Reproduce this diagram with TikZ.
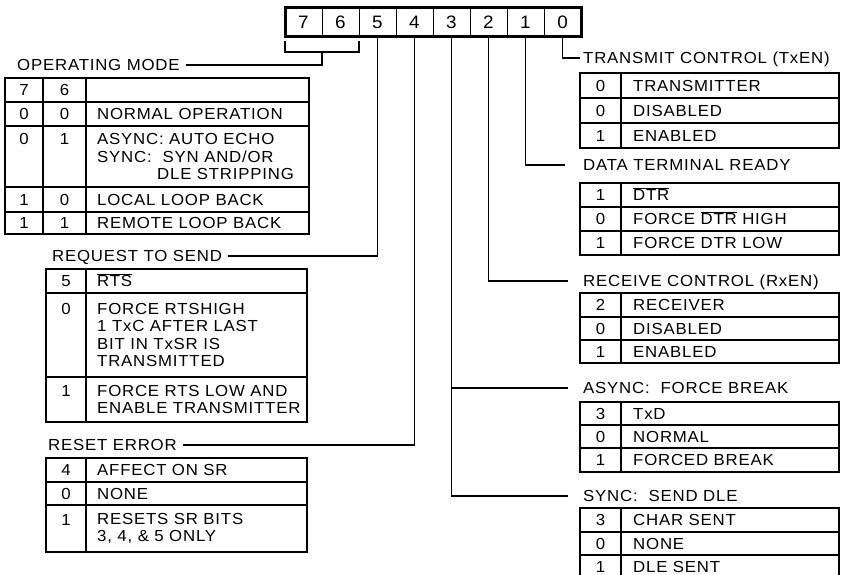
\documentclass[tikz,border=0pt]{standalone}
\usepackage{fontspec}
\setmainfont{Liberation Sans}[FakeStretch=1.05,LetterSpace=5]
\usetikzlibrary{positioning}

\newcommand{\cellfont}{\fontsize{16}{17.5}\selectfont}
\newcommand{\regfont}{\fontsize{18}{20}\selectfont}

\begin{document}
\begin{tikzpicture}[
    x=1pt, y=-1pt,
    bit/.style={
        rectangle,
        draw,
        line width=0.9pt,
        outer sep=0pt,
        inner sep=0pt,
        minimum width=37pt,
        minimum height=29pt,
        font=\regfont
    },
    title/.style={anchor=west, inner sep=3pt, text height=11.5pt, text depth=0pt, font=\cellfont},
    key/.style={inner sep=0pt, text height=11.5pt, text depth=0pt, font=\cellfont},
    entry/.style={anchor=west, inner sep=0pt, text height=11.5pt, text depth=0pt, font=\cellfont},
    multi/.style={anchor=west, align=left, inner sep=0pt, font=\cellfont},
    grid/.style={line width=1.1pt},
    wire/.style={line width=1.1pt}
]
\useasboundingbox (0,0) rectangle (841,575);

% register
\node[bit] (r7) at (303.5,22.5) {7};
\node[bit, right=0pt of r7] (r6) {6};
\node[bit, right=0pt of r6] (r5) {5};
\node[bit, right=0pt of r5] (r4) {4};
\node[bit, right=0pt of r4] (r3) {3};
\node[bit, right=0pt of r3] (r2) {2};
\node[bit, right=0pt of r2] (r1) {1};
\node[bit, right=0pt of r1] (r0) {0};
\draw[line width=3pt] (r7.north west) rectangle (r0.south east);

% labels
\node[title] (opmode) at (14,65) {OPERATING MODE};
\node[title] (rts) at (49,256) {REQUEST TO SEND};
\node[title] (reset) at (45,445) {RESET ERROR};
\node[title] (txen) at (580,58) {TRANSMIT CONTROL (TxEN)};
\node[title] (dtr) at (580,165) {DATA TERMINAL READY};
\node[title] (rxen) at (580,281) {RECEIVE CONTROL (RxEN)};
\node[title] (fbrk) at (580,388) {ASYNC:\ \ FORCE BREAK};
\node[title] (sdle) at (580,496) {SYNC:\ \ SEND DLE};

% connectors
\draw[wire] ([yshift=-4pt]r7.south west) -- ++(0,11) -| ([yshift=-4pt]r6.south east);
\coordinate (brace) at ([yshift=-15pt]r6.south west);
\draw[wire, shorten >=3pt] (brace) |- (opmode.east);
\draw[wire, shorten >=3pt] (r5.south) |- (rts.east);
\draw[wire, shorten >=3pt] (r4.south) |- (reset.east);
\draw[wire] (r0.south) |- (txen.west);
\draw[wire, shorten >=15pt] (r1.south) |- (dtr.west);
\draw[wire, shorten >=12pt] (r2.south) |- (rxen.west);
\draw[wire, shorten >=12pt] (r3.south) |- (fbrk.west);
\draw[wire, shorten >=12pt] (r3.south) |- (sdle.west);

% operating mode table
\draw[grid] (5,78) rectangle (309,234);
\foreach \y in {102,126,187,212} \draw[grid] (5,\y) -- (309,\y);
\draw[grid] (43,78) -- (43,234) (86,78) -- (86,234);
\node[key] (om7) at (24,90) {7};
\node[key] (om6) at (64.5,90) {6};
\node[key] (oma7) at (24,114) {0};
\node[key] (oma6) at (64.5,114) {0};
\node[entry] (oma) at (97,114) {NORMAL OPERATION};
\node[key] (omb7) at (24,139) {0};
\node[key] (omb6) at (64.5,139) {1};
\node[multi] (omb) at (97,156.5) {ASYNC:\ AUTO ECHO\\
SYNC:\ \ SYN AND/OR\\
\hspace*{60pt}DLE STRIPPING};
\node[key] (omc7) at (24,199.5) {1};
\node[key] (omc6) at (64.5,199.5) {0};
\node[entry] (omc) at (97,199.5) {LOCAL LOOP BACK};
\node[key] (omd7) at (24,223) {1};
\node[key] (omd6) at (64.5,223) {1};
\node[entry] (omd) at (97,223) {REMOTE LOOP BACK};

% request to send table
\draw[grid] (46,269) rectangle (307,422);
\foreach \y in {293,377} \draw[grid] (46,\y) -- (307,\y);
\draw[grid] (86,269) -- (86,422);
\node[key] (rtsk) at (66,281) {5};
\node[entry] (rtsh) at (97,281) {$\overline{\mbox{RTS}}$};
\node[key] (rtsak) at (66,309) {0};
\node[multi] (rtsa) at (97,335) {FORCE RTSHIGH\\
1 TxC AFTER LAST\\
BIT IN TxSR IS\\
TRANSMITTED};
\node[key] (rtsbk) at (66,391) {1};
\node[multi] (rtsb) at (97,399.5) {FORCE RTS LOW AND\\
ENABLE TRANSMITTER};

% reset error table
\draw[grid] (46,458) rectangle (307,552);
\foreach \y in {482,505} \draw[grid] (46,\y) -- (307,\y);
\draw[grid] (86,458) -- (86,552);
\node[key] (rstk) at (66,470) {4};
\node[entry] (rsth) at (97,470) {AFFECT ON SR};
\node[key] (rstak) at (66,493.5) {0};
\node[entry] (rsta) at (97,493.5) {NONE};
\node[key] (rstbk) at (66,520) {1};
\node[multi] (rstb) at (97,528.5) {RESETS SR BITS\\
3, 4, \& 5 ONLY};

% transmit control table
\draw[grid] (580,73) rectangle (839,148);
\foreach \y in {98,123} \draw[grid] (580,\y) -- (839,\y);
\draw[grid] (621,73) -- (621,148);
\node[key] (txk) at (600.5,85.5) {0};
\node[entry] (txh) at (633,85.5) {TRANSMITTER};
\node[key] (txak) at (600.5,110.5) {0};
\node[entry] (txa) at (633,110.5) {DISABLED};
\node[key] (txbk) at (600.5,135.5) {1};
\node[entry] (txb) at (633,135.5) {ENABLED};

% data terminal ready table
\draw[grid] (580,183) rectangle (839,255);
\foreach \y in {207,231} \draw[grid] (580,\y) -- (839,\y);
\draw[grid] (621,183) -- (621,255);
\node[key] (dtrk) at (600.5,195) {1};
\node[entry] (dtrh) at (633,195) {$\overline{\mbox{DTR}}$};
\node[key] (dtrak) at (600.5,219) {0};
\node[entry] (dtra) at (633,219) {FORCE $\overline{\mbox{DTR}}$ HIGH};
\node[key] (dtrbk) at (600.5,243) {1};
\node[entry] (dtrb) at (633,243) {FORCE DTR LOW};

% receive control table
\draw[grid] (580,293) rectangle (839,363);
\foreach \y in {317,340} \draw[grid] (580,\y) -- (839,\y);
\draw[grid] (621,293) -- (621,363);
\node[key] (rxk) at (600.5,305) {2};
\node[entry] (rxh) at (633,305) {RECEIVER};
\node[key] (rxak) at (600.5,328.5) {0};
\node[entry] (rxa) at (633,328.5) {DISABLED};
\node[key] (rxbk) at (600.5,351.5) {1};
\node[entry] (rxb) at (633,351.5) {ENABLED};

% force break table
\draw[grid] (580,402) rectangle (839,472);
\foreach \y in {425,448} \draw[grid] (580,\y) -- (839,\y);
\draw[grid] (621,402) -- (621,472);
\node[key] (fbk) at (600.5,413.5) {3};
\node[entry] (fbh) at (633,413.5) {TxD};
\node[key] (fbak) at (600.5,436.5) {0};
\node[entry] (fba) at (633,436.5) {NORMAL};
\node[key] (fbbk) at (600.5,460) {1};
\node[entry] (fbb) at (633,460) {FORCED BREAK};

% send dle table (runs off the bottom)
\draw[grid] (580,575) -- (580,508) -- (839,508) -- (839,575);
\foreach \y in {532,555} \draw[grid] (580,\y) -- (839,\y);
\draw[grid] (621,508) -- (621,575);
\node[key] (dlek) at (600.5,520) {3};
\node[entry] (dleh) at (633,520) {CHAR SENT};
\node[key] (dleak) at (600.5,543.5) {0};
\node[entry] (dlea) at (633,543.5) {NONE};
\node[key] (dlebk) at (600.5,566.5) {1};
\node[entry] (dleb) at (633,566.5) {DLE SENT};

\end{tikzpicture}
\end{document}
